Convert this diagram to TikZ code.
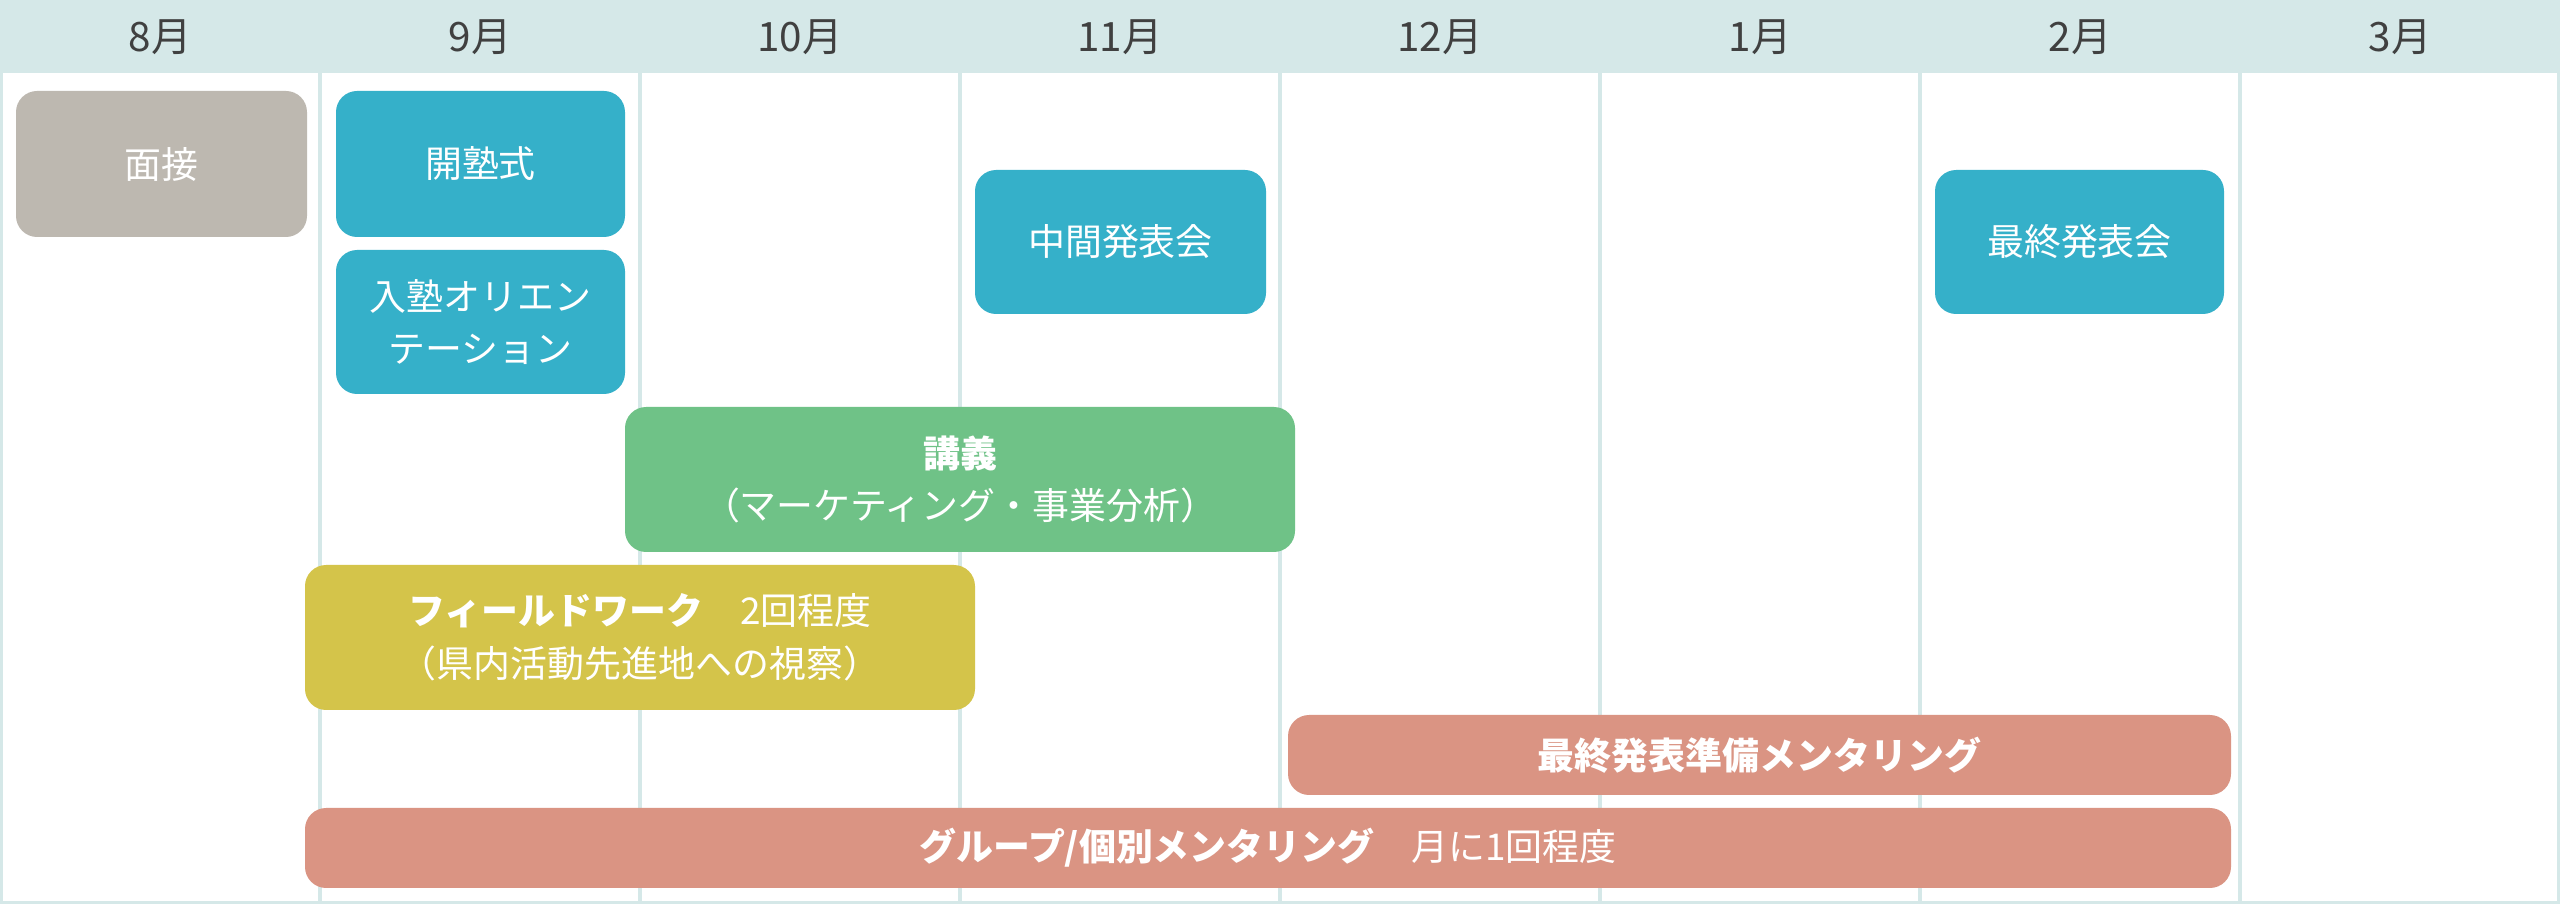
\documentclass[tikz,border=0pt]{standalone}
\usepackage{fontspec}
\setmainfont{Noto Sans CJK JP}
\definecolor{headbg}{HTML}{D5E8E8}
\definecolor{gridline}{HTML}{D5E8E8}
\definecolor{grayev}{HTML}{BDB8B0}
\definecolor{blueev}{HTML}{35B0C9}
\definecolor{greenev}{HTML}{6FC287}
\definecolor{yellowev}{HTML}{D4C44A}
\definecolor{salmonev}{HTML}{DA9483}
\tikzset{
  ev/.style={rounded corners=6pt, text=white, align=center, font=\fontsize{10.5pt}{15pt}\selectfont},
  month/.style={font=\fontsize{11.5pt}{14pt}\selectfont, text=black!75},
}
\newcommand{\evbox}[5]{% #1=name #2=colour #3=top-left #4=bottom-right #5=text
  \fill[#2, rounded corners=6pt] #3 rectangle #4;
  \node[ev] (#1) at ($#3!0.5!#4$) {#5};}
\usetikzlibrary{calc}
\begin{document}
\begin{tikzpicture}[x=0.01cm,y=-0.01cm]
  \useasboundingbox (0,0) rectangle (2560,904);
  \fill[white] (0,0) rectangle (2560,904);
  \fill[headbg] (0,0) rectangle (2560,73);
  \foreach \i in {1,...,7}
    \draw[gridline, line width=1.2pt] (\i*320,73) -- (\i*320,904);
  \draw[gridline, line width=1.5pt] (0,0) rectangle (2560,904);
  % months
  \foreach \m [count=\i from 0] in {8月,9月,10月,11月,12月,1月,2月,3月}
    \node[month] (m\i) at (\i*320+160,37) {\m};
  % events
  \evbox{interview}{grayev}{(16,91)}{(307,237)}{面接}
  \evbox{opening}{blueev}{(336,91)}{(625,237)}{開塾式}
  \evbox{orient}{blueev}{(336,250)}{(625,394)}{入塾オリエン\\テーション}
  \evbox{midterm}{blueev}{(975,170)}{(1266,314)}{中間発表会}
  \evbox{final}{blueev}{(1935,170)}{(2224,314)}{最終発表会}
  \evbox{lecture}{greenev}{(625,407)}{(1295,552)}{\textbf{講義}\\（マーケティング・事業分析）}
  \evbox{field}{yellowev}{(305,565)}{(975,710)}{\textbf{フィールドワーク}\quad 2回程度\\（県内活動先進地への視察）}
  \evbox{prep}{salmonev}{(1288,715)}{(2231,795)}{\textbf{最終発表準備メンタリング}}
  \evbox{mentor}{salmonev}{(305,808)}{(2231,888)}{\textbf{グループ/個別メンタリング}\quad 月に1回程度}
\end{tikzpicture}
\end{document}
